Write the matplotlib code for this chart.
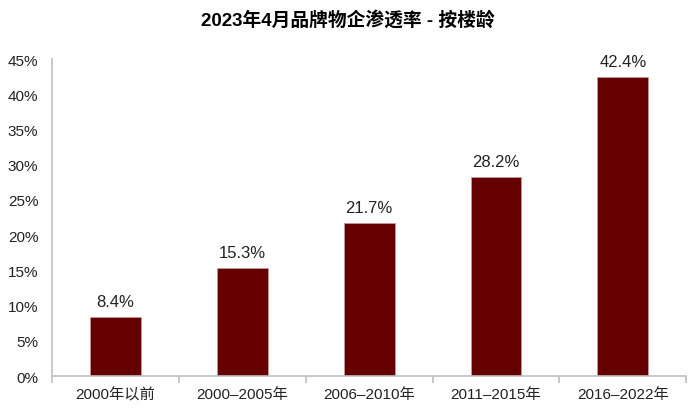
import matplotlib
matplotlib.use('Agg')
import matplotlib.pyplot as plt
import numpy as np
from matplotlib.ticker import FuncFormatter

plt.rcParams['font.family'] = ['Liberation Sans', 'Noto Sans CJK SC', 'DejaVu Sans']

categories = ['2000年以前', '2000–2005年', '2006–2010年', '2011–2015年', '2016–2022年']
values = [8.4, 15.3, 21.7, 28.2, 42.4]
title = '2023年4月品牌物企渗透率 - 按楼龄'

bar_color = '#660000'
axis_color = '#bfbfbf'

fig = plt.figure(figsize=(6.96, 4.14), dpi=100)
ax = fig.add_axes([0.075, 0.089, 0.911, 0.766])

x = np.arange(len(categories))
ax.bar(x, values, width=0.4, color=bar_color, edgecolor='#c8a0a0', linewidth=0.5)
for xi, v in zip(x, values):
    ax.text(xi, v + 1.2, '%.1f%%' % v, ha='center', va='bottom', fontsize=12, color='#222222')

ax.set_xlim(-0.5, len(categories) - 0.5)
ax.set_ylim(0, 45)
ax.set_yticks(np.arange(0, 46, 5))
ax.yaxis.set_major_formatter(FuncFormatter(lambda v, p: '%d%%' % v))
ax.set_xticks(x)
ax.set_xticklabels(categories)
ax.set_xticks(np.arange(-0.5, len(categories), 1), minor=True)
ax.tick_params(axis='x', which='major', length=0, pad=8, labelsize=11, colors='#222222')
ax.tick_params(axis='x', which='minor', length=5, color=axis_color, width=1.2)
ax.tick_params(axis='y', length=0, pad=10, labelsize=11, colors='#222222')

for s in ['top', 'right']:
    ax.spines[s].set_visible(False)
for s in ['left', 'bottom']:
    ax.spines[s].set_color(axis_color)
    ax.spines[s].set_linewidth(1.2)

fig.suptitle(title, fontsize=13.5, fontweight='bold', y=0.975)

plt.savefig('out.png', dpi=100)
